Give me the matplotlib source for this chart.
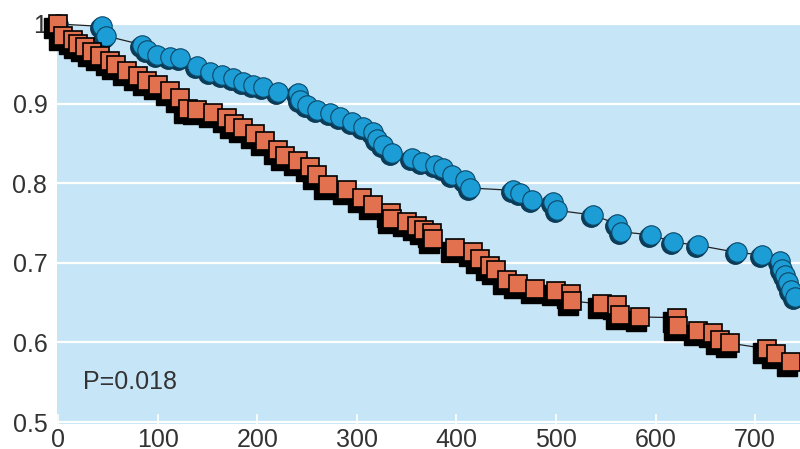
import numpy as np
import matplotlib
matplotlib.use('Agg')
import matplotlib.pyplot as plt
from matplotlib.transforms import offset_copy

plt.rcParams['font.family'] = ['Liberation Sans', 'DejaVu Sans']

# upper group (circles)
days_a = [0, 43.9, 48.2, 84.0, 89.1, 99.1, 112.4, 122.5, 139.3, 152.6, 164.4, 175.7, 185.7,
          195.8, 205.8, 220.9, 241.0, 243.0, 250.0, 259.7, 273.1, 283.1, 294.9, 306.2, 316.3,
          320.0, 326.3, 335.0, 355.1, 365.2, 378.5, 386.5, 395.3, 408.6, 413.7, 456.8, 463.9,
          475.6, 497.0, 500.7, 537.1, 560.9, 565.3, 595.4, 617.5, 642.6, 681.7, 706.8, 724.9,
          726.9, 729.9, 732.9, 735.9, 739.9]
surv_a = [1.0, 0.997, 0.985, 0.974, 0.967, 0.961, 0.959, 0.957, 0.947, 0.940, 0.936, 0.932, 0.927,
          0.923, 0.921, 0.915, 0.913, 0.905, 0.898, 0.892, 0.888, 0.883, 0.877, 0.871, 0.864,
          0.856, 0.848, 0.838, 0.832, 0.827, 0.823, 0.819, 0.810, 0.804, 0.794, 0.791, 0.788,
          0.779, 0.777, 0.766, 0.760, 0.749, 0.739, 0.735, 0.726, 0.722, 0.713, 0.710, 0.702,
          0.692, 0.685, 0.676, 0.666, 0.657]

# lower group (squares)
days_b = [0, 5.0, 15.1, 20.1, 27.1, 34.1, 42.2, 52.2, 58.2, 69.3, 80.3, 89.4, 100.4, 112.4,
          122.5, 130.5, 139.6, 155.6, 169.7, 176.7, 185.7, 197.8, 207.8, 220.9, 227.9, 241.0,
          253.0, 260.0, 271.1, 290.2, 305.2, 316.3, 334.3, 335.3, 350.4, 360.4, 367.5, 375.5,
          376.5, 398.6, 416.7, 423.7, 433.7, 439.8, 450.8, 461.8, 478.9, 500.0, 515.1, 516.1,
          546.2, 561.2, 564.3, 584.3, 621.5, 622.5, 642.6, 657.6, 664.7, 674.7, 711.8, 720.9,
          735.9]
surv_b = [1.0, 0.985, 0.980, 0.975, 0.971, 0.965, 0.960, 0.954, 0.949, 0.941, 0.935, 0.929, 0.923,
          0.916, 0.907, 0.893, 0.892, 0.888, 0.882, 0.874, 0.869, 0.862, 0.853, 0.842, 0.834,
          0.828, 0.820, 0.810, 0.798, 0.791, 0.781, 0.773, 0.763, 0.755, 0.751, 0.746, 0.741,
          0.737, 0.730, 0.719, 0.714, 0.705, 0.696, 0.691, 0.678, 0.673, 0.667, 0.665, 0.661,
          0.652, 0.648, 0.647, 0.634, 0.632, 0.631, 0.621, 0.614, 0.612, 0.603, 0.599, 0.592,
          0.585, 0.576]

x_ticks = [0, 100, 200, 300, 400, 500, 600, 700]
y_ticks = [0.5, 0.6, 0.7, 0.8, 0.9, 1.0]
y_labels = ['0.5', '0.6', '0.7', '0.8', '0.9', '1']
p_text = 'P=0.018'

fig = plt.figure(figsize=(8, 4.49), dpi=100)
ax = fig.add_axes([57/800, 25/449, 743/800, 400/449])
ax.set_facecolor('#c6e6f7')
for s in ax.spines.values():
    s.set_visible(False)

ax.set_xlim(-1, 745)
ax.set_ylim(0.4975, 1.0)

ax.set_yticks(y_ticks)
ax.set_yticklabels(y_labels)
ax.set_xticks(x_ticks)
ax.yaxis.grid(True, color='white', lw=1.6)
ax.set_axisbelow(True)
ax.tick_params(axis='y', length=0, pad=7, labelsize=18, labelcolor='#333333')
ax.tick_params(axis='x', direction='in', length=7, width=1.2, color='white', pad=3,
               labelsize=18, labelcolor='#333333')

shadow_a = offset_copy(ax.transData, fig=fig, x=-2, y=-2, units='dots')
shadow_b = offset_copy(ax.transData, fig=fig, x=-4, y=-4, units='dots')

# circles
ax.plot(days_a, surv_a, color='#222222', lw=0.9, zorder=3, clip_on=False)
ax.plot(days_a, surv_a, ls='none', marker='o', ms=14, mfc='#0b3b56', mec='#0b3b56',
        transform=shadow_a, zorder=4, clip_on=False)
ax.plot(days_a, surv_a, ls='none', marker='o', ms=14, mfc='#1c9dd6', mec='#0d4766',
        mew=0.8, zorder=5, clip_on=False)

# squares
ax.plot(days_b, surv_b, color='#222222', lw=0.9, zorder=6, clip_on=False)
ax.plot(days_b, surv_b, ls='none', marker='s', ms=14, mfc='black', mec='black',
        transform=shadow_b, zorder=7, clip_on=False)
ax.plot(days_b, surv_b, ls='none', marker='s', ms=13.5, mfc='#e2714f', mec='black',
        mew=1.2, zorder=8, clip_on=False)

ax.text(25, 0.55, p_text, fontsize=18, color='#333333', va='center', ha='left')

fig.savefig('out.png', dpi=100)
plt.close()
